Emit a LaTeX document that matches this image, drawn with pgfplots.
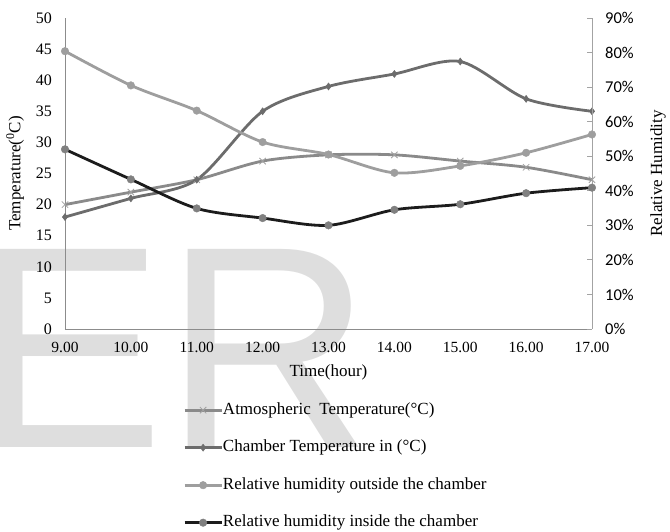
\documentclass[border=0pt]{standalone}
\usepackage{fontspec}
\setmainfont{Liberation Serif}
\newfontfamily\wmfont{Liberation Sans}
\newfontfamily\pctfont{Carlito}
\usepackage{pgfplots}
\usepackage{pgfplotstable}
\pgfplotsset{compat=1.18}

\definecolor{atmgray}{HTML}{8A8A8A}
\definecolor{chgray}{HTML}{6C6C6C}
\definecolor{outgray}{HTML}{9E9E9E}
\definecolor{ingray}{HTML}{1C1C1C}
\definecolor{inmark}{HTML}{808080}
\definecolor{axgray}{HTML}{8C8C8C}
\definecolor{wmgray}{HTML}{DEDEDE}

\pgfplotstableread{
hour atm chamber
9  20 18
10 22 21
11 24 24
12 27 35
13 28 39
14 28 41
15 27 43
16 26 37
17 24 35
}\temps

\pgfplotstableread{
hour out in
9  80.4 52.0
10 70.5 43.3
11 63.2 34.9
12 54.1 32.1
13 50.5 30.0
14 45.2 34.5
15 47.2 36.1
16 51.0 39.3
17 56.3 40.9
}\rh

\pgfplotsset{
  atm/.style={color=atmgray, line width=2.8pt, smooth, tension=0.5,
    mark=x, mark size=4.5pt, mark options={line width=0.8pt, draw=atmgray!80}},
  cham/.style={color=chgray, line width=2.8pt, smooth, tension=0.5,
    mark=diamond*, mark size=3.5pt, mark options={line width=0.5pt, fill=chgray, draw=chgray}},
  rhout/.style={color=outgray, line width=2.8pt, smooth, tension=0.5,
    mark=*, mark size=3.8pt, mark options={line width=0.4pt, fill=outgray, draw=outgray}},
  rhin/.style={color=ingray, line width=2.8pt, smooth, tension=0.5,
    mark=*, mark size=3.8pt, mark options={line width=0.4pt, fill=inmark, draw=inmark}},
  base/.style={
    scale only axis, width=527pt, height=311pt,
    at={(0pt,0pt)}, anchor=south west,
    xmin=9, xmax=17, clip=false,
    /pgf/number format/assume math mode=true,
  },
}

\begin{document}
\fontsize{16}{19}\selectfont
\begin{tikzpicture}
\path[use as bounding box] (-65pt,-202pt) rectangle (605pt,329pt);
% watermark
\node[anchor=base west, inner sep=0pt, text=wmgray] at (-93pt,-118pt)
  {\wmfont\fontsize{288}{288}\selectfont ER};

\begin{axis}[base,
  axis x line*=bottom, axis y line*=left,
  axis line style={axgray, line width=0.8pt},
  ymin=0, ymax=50, ytick={0,5,...,50},
  xtick={9,...,17},
  xticklabels={9.00,10.00,11.00,12.00,13.00,14.00,15.00,16.00,17.00},
  major tick length=0pt,
  yticklabel style={anchor=east, inner sep=0pt, xshift=-13pt, font=\fontsize{16}{19}\selectfont},
  xticklabel style={anchor=north, inner sep=0pt, yshift=-13pt, font=\fontsize{15.5}{19}\selectfont},
  xlabel={Time(hour)},
  xlabel style={at={(axis description cs:0.5,0)}, anchor=center, yshift=-43pt, font=\fontsize{17}{20}\selectfont},
  ylabel={Temperature(\textsuperscript{0}C)},
  ylabel style={at={(axis description cs:0,0.5)}, anchor=center, yshift=50pt, font=\fontsize{17}{20}\selectfont},
]
\addplot[atm] table[x=hour, y=atm] {\temps};
\addplot[cham] table[x=hour, y=chamber] {\temps};
\end{axis}

\begin{axis}[base,
  axis x line=none, axis y line*=right,
  axis line style={axgray!80, line width=0.8pt},
  ymin=0, ymax=90, ytick={0,10,...,90},
  yticklabel={\pgfmathprintnumber{\tick}\%},
  ytick style={axgray!80, line width=0.8pt},
  major tick length=5pt,
  yticklabel style={anchor=west, inner sep=0pt, xshift=13pt, font=\pctfont\fontsize{16.5}{19}\selectfont},
  ylabel={Relative Humidity},
  ylabel style={at={(axis description cs:1,0.5)}, anchor=center, yshift=-66pt, font=\fontsize{17}{20}\selectfont},
  legend style={at={(axis description cs:0.2239,-0.2347)}, anchor=north west,
    draw=none, fill=none, inner sep=0pt, row sep=21.5pt,
    nodes={inner sep=0pt, text height=12pt, text depth=4pt},
    font=\fontsize{17}{20}\selectfont},
  legend cell align=left,
  legend image code/.code={\draw[mark repeat=2, mark phase=2, #1]
    plot coordinates {(0pt,0pt) (18.5pt,0pt) (37pt,0pt)};},
]
\addlegendimage{atm}
\addlegendentry{Atmospheric\ \ Temperature(°C)}
\addlegendimage{cham}
\addlegendentry{Chamber Temperature in (°C)}
\addplot[rhout] table[x=hour, y=out] {\rh};
\addlegendentry{Relative humidity outside the chamber}
\addplot[rhin] table[x=hour, y=in] {\rh};
\addlegendentry{Relative humidity inside the chamber}
\end{axis}
\end{tikzpicture}
\end{document}
